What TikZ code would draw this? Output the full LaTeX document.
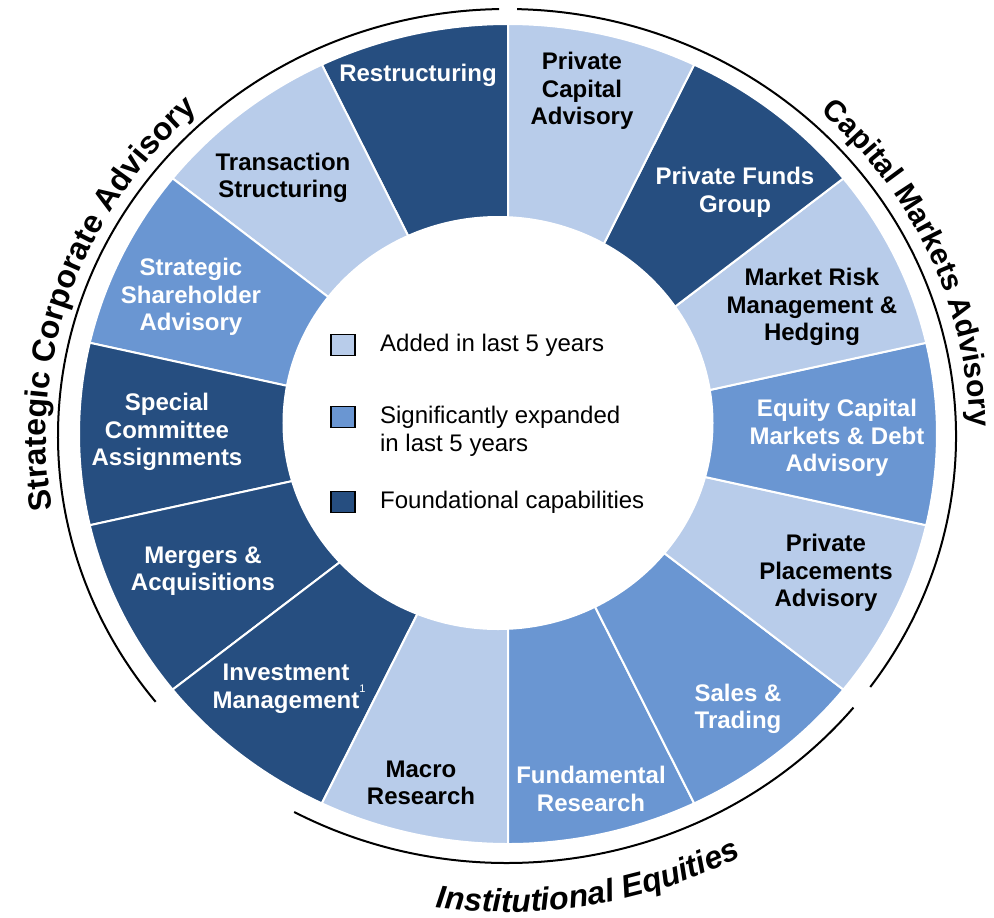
\documentclass[tikz,border=0pt]{standalone}
\usepackage{fontspec}
\setmainfont{Liberation Sans}
\usepackage{tikz}
\usetikzlibrary{positioning,decorations.text}
\definecolor{addedblue}{HTML}{B8CCEA}
\definecolor{expandblue}{HTML}{6A96D2}
\definecolor{foundblue}{HTML}{264E80}

\begin{document}
\begin{tikzpicture}[x=0.5pt,y=0.5pt]
  \tikzstyle{seg} = [draw=white, line width=1pt]
  \tikzstyle{lab} = [align=center, font=\bfseries\fontsize{12}{13.8}\selectfont, inner sep=0pt]
  \tikzstyle{whitelab} = [lab, text=white]
  \tikzstyle{blacklab} = [lab, text=black]
  \tikzstyle{keybox} = [draw=black, line width=0.75pt, minimum width=12pt, minimum height=10.5pt, inner sep=0pt]
  \tikzstyle{keytext} = [font=\fontsize{12}{14}\selectfont, align=left, inner sep=0pt]
  \tikzstyle{rim} = [line width=1pt]
  \tikzstyle{arctext} = [decorate]
  \useasboundingbox (-508,-483) rectangle (486,434);
  % ring of capabilities
  \foreach \c [count=\i from 0] in {foundblue,addedblue,expandblue,foundblue,foundblue,foundblue,addedblue,expandblue,expandblue,addedblue,expandblue,addedblue,foundblue,addedblue}
    \filldraw[seg, fill=\c] (0,0) -- ({90+\i*360/14}:429 and 410) arc[start angle={90+\i*360/14}, delta angle={360/14}, x radius=429, y radius=410] -- cycle;
  \fill[white] (-10,11) ellipse [x radius=215.5, y radius=207];
  % group arcs
  \coordinate (rimc) at (-1,-2);
  \draw[rim] (rimc) ++(91:449 and 427) arc[start angle=91, end angle=218.5, x radius=449, y radius=427];
  \draw[rim] (rimc) ++(241.7:449 and 427) arc[start angle=241.7, end angle=320.5, x radius=449, y radius=427];
  \draw[rim] (rimc) ++(-36:449 and 427) arc[start angle=-36, end angle=88.7, x radius=449, y radius=427];
  \path[arctext, decoration={text along path, text align=center, text={|\bfseries\fontsize{16}{16}\selectfont|Strategic Corporate Advisory}}]
    (rimc) ++(201:461 and 439) arc[start angle=201, end angle=121, x radius=461, y radius=439];
  \path[arctext, decoration={text along path, text align=center, text={|\bfseries\fontsize{15}{15}\selectfont|Capital Markets Advisory}}]
    (rimc) ++(64:463 and 441) arc[start angle=64, end angle=-16, x radius=463, y radius=441];
  \path[arctext, decoration={text along path, text align=center, text={|\bfseries\itshape\fontsize{16}{16}\selectfont|Institutional Equities}}]
    (rimc) ++(240:500 and 476) arc[start angle=240, end angle=320, x radius=500, y radius=476];
  % segment labels
  \node[whitelab] (restr) at (-90,359) {Restructuring};
  \node[blacklab] (pca) at (74,343) {Private\\Capital\\Advisory};
  \node[whitelab] (pfg) at (227,242) {Private Funds\\Group};
  \node[blacklab] (mrm) at (304,127) {Market Risk\\Management \&\\Hedging};
  \node[whitelab] (ecm) at (329,-4) {Equity Capital\\Markets \& Debt\\Advisory};
  \node[blacklab] (ppa) at (318,-139) {Private\\Placements\\Advisory};
  \node[whitelab] (st) at (230,-275) {Sales \&\\Trading};
  \node[whitelab] (fr) at (83,-355) {Fundamental\\Research};
  \node[blacklab] (mr) at (-87,-349) {Macro\\Research};
  \node[whitelab] (im) at (-222,-255) {Investment\\Management\rlap{\raisebox{8pt}{\mdseries\fontsize{5.5}{6}\selectfont 1}}};
  \node[whitelab] (ma) at (-305,-137) {Mergers \&\\Acquisitions};
  \node[whitelab] (sca) at (-341,2) {Special\\Committee\\Assignments};
  \node[whitelab] (ssa) at (-317,137) {Strategic\\Shareholder\\Advisory};
  \node[blacklab] (ts) at (-225,256) {Transaction\\Structuring};
  % legend
  \node[keybox, fill=addedblue] (k1) at (-165,89) {};
  \node[keybox, fill=expandblue] (k2) at (-165,17) {};
  \node[keybox, fill=foundblue] (k3) at (-165,-68) {};
  \node[keytext, right=12pt of k1] (t1) {Added in last 5 years};
  \node[keytext, right=12pt of k2.north east, anchor=north west] (t2) {Significantly expanded\\in last 5 years};
  \node[keytext, right=12pt of k3] (t3) {Foundational capabilities};
\end{tikzpicture}
\end{document}
